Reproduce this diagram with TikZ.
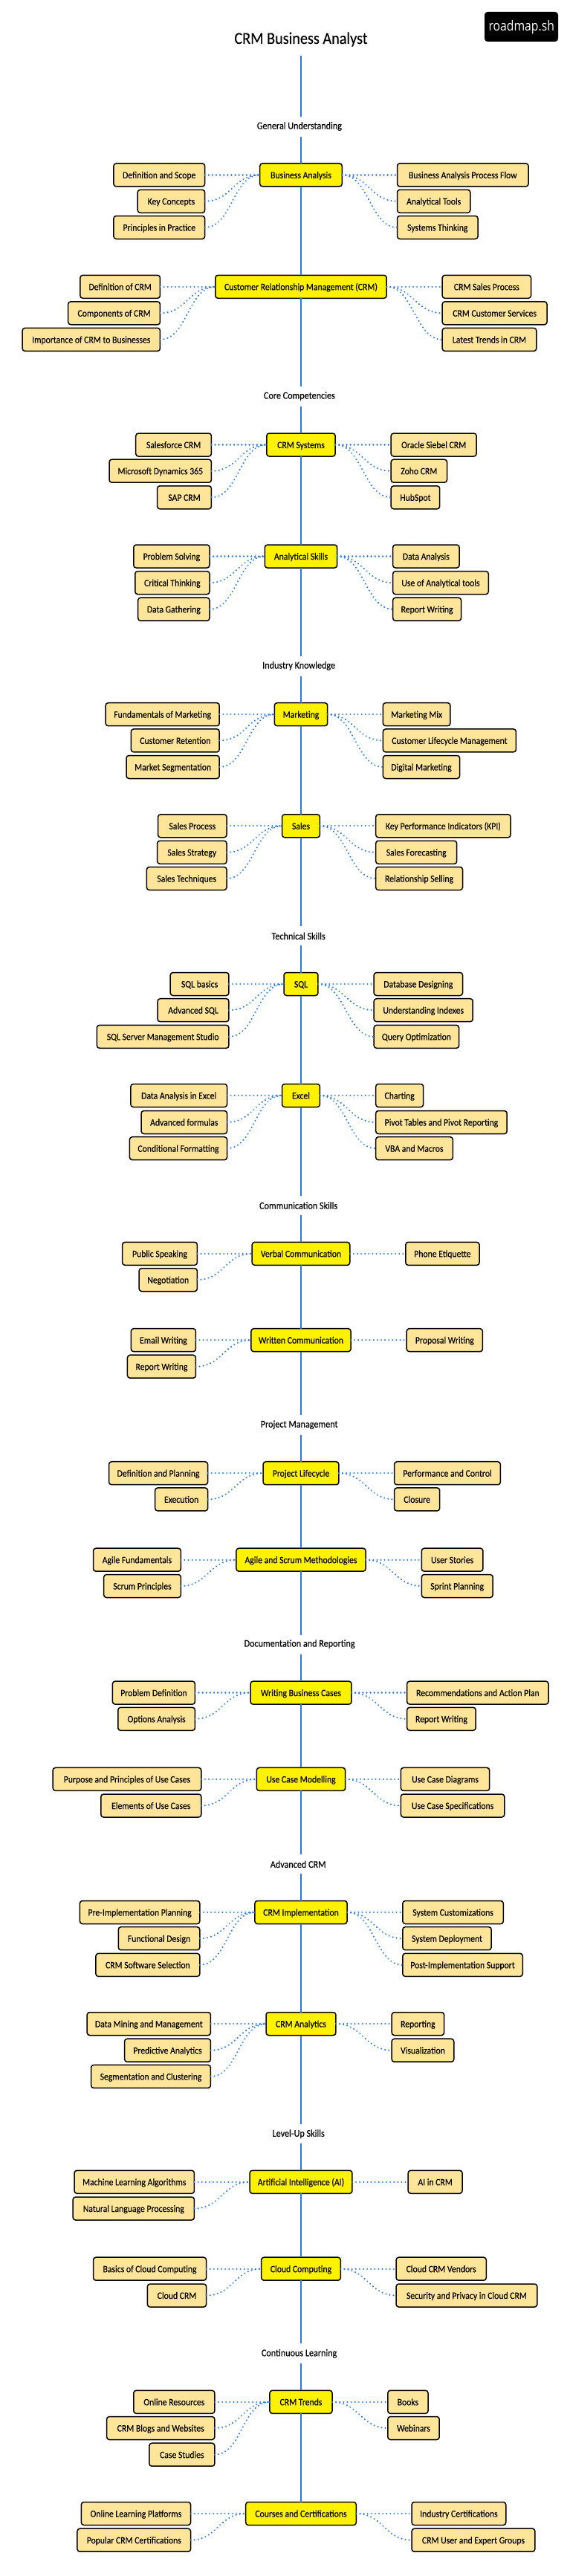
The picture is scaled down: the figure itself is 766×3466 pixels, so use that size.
\documentclass[tikz,border=0pt]{standalone}
\usepackage{fontspec}
\setmainfont[FakeStretch=0.9,FakeBold=0.25]{Carlito}
\newfontfamily\logofont[FakeStretch=0.85]{Open Sans}
\definecolor{linkblue}{HTML}{2B78E4}
\definecolor{subfill}{HTML}{FFE599}
\tikzset{
  basebox/.style={draw=black,line width=1.5,rounded corners=3.5,inner sep=0,outer sep=0,
    minimum height=31,text height=10,text depth=1,font=\fontsize{13}{15}\selectfont,text=black},
  mainbox/.style={basebox,fill=yellow},
  subbox/.style={basebox,fill=subfill},
  seclabel/.style={inner sep=0,font=\fontsize{13.5}{15}\selectfont,text=black},
  spineline/.style={draw=linkblue,line width=1.8},
  dotlink/.style={draw=linkblue,line width=2.3,line cap=round,dash pattern=on 0.01pt off 5.1pt},
}
\newcommand\mainn[5]{\node[mainbox,minimum width={(#3-#2)/2.044-1.5}] (#1) at (405,#4) {#5};}
\newcommand\lsub[6]{\node[subbox,minimum width={(#4-#3)/2.044-1.5}] (#2) at ({(#3+#4)/2/2.044},#5) {#6};
  \draw[dotlink] (#2.east) .. controls +(36.5,0) and +(-36.5,0) .. (#1.west);}
\newcommand\rsub[6]{\node[subbox,minimum width={(#4-#3)/2.044-1.5}] (#2) at ({(#3+#4)/2/2.044},#5) {#6};
  \draw[dotlink] (#1.east) .. controls +(36.5,0) and +(-36.5,0) .. (#2.west);}
\newcommand\secl[6]{\node[seclabel] (#1) at ({#2/2.044},#3) {#6};
  \coordinate (#1-up) at (405,#4); \coordinate (#1-down) at (405,#5);}
\newcommand\spine[2]{\draw[spineline] (#1) -- (#2);}
\begin{document}
\begin{tikzpicture}[x=1pt,y=-1pt]
\useasboundingbox (0,0) rectangle (766,3466);
\fill[white] (0,0) rectangle (766,3466);
\node[inner sep=0,font=\fontsize{22.5}{24}\selectfont] (title) at (405,53) {CRM Business Analyst};
\node[fill=black,rounded corners=4,inner sep=0,outer sep=0,minimum width=99,minimum height=40] (logo) at (701.5,36) {};
\node[inner sep=0,text=white,font=\logofont\fontsize{18.5}{20}\selectfont] (logotext) at (701.8,37) {roadmap.sh};
\coordinate (top) at (405,75);
% sections
\secl{s1}{823.5}{170}{157}{184}{General Understanding}
\secl{s2}{823.5}{533}{520.4}{546.8}{Core Competencies}
\secl{s3}{822}{896}{882.9}{909.6}{Industry Knowledge}
\secl{s4}{821}{1259.4}{1245.6}{1272.4}{Technical Skills}
\secl{s5}{821}{1622}{1608.7}{1635}{Communication Skills}
\secl{s6}{823}{1917.1}{1903.7}{1930.5}{Project Management}
\secl{s7}{824}{2212.1}{2199.5}{2225.9}{Documentation and Reporting}
\secl{s8}{820}{2508.3}{2494.6}{2521}{Advanced CRM}
\secl{s9}{821}{2871.2}{2857.5}{2884.4}{Level-Up Skills}
\secl{s10}{823}{3166.7}{3153}{3180.4}{Continuous Learning}
% Business Analysis
\mainn{ba}{714}{943}{235.4}{Business Analysis}
\lsub{ba}{ba-l1}{311}{565}{235.4}{Definition and Scope}
\lsub{ba}{ba-l2}{377}{565}{270.8}{Key Concepts}
\lsub{ba}{ba-l3}{311}{565}{306}{Principles in Practice}
\rsub{ba}{ba-r1}{1091}{1455}{235.4}{Business Analysis Process Flow}
\rsub{ba}{ba-r2}{1091}{1295}{270.8}{Analytical Tools}
\rsub{ba}{ba-r3}{1091}{1316}{306}{Systems Thinking}
% CRM
\mainn{crm}{591}{1065}{385.8}{Customer Relationship Management (CRM)}
\lsub{crm}{crm-l1}{219}{442}{385.8}{Definition of CRM}
\lsub{crm}{crm-l2}{186}{442}{421.3}{Components of CRM}
\lsub{crm}{crm-l3}{60}{442}{456.9}{Importance of CRM to Businesses}
\rsub{crm}{crm-r1}{1215}{1462}{385.8}{CRM Sales Process}
\rsub{crm}{crm-r2}{1215}{1506}{421.3}{CRM Customer Services}
\rsub{crm}{crm-r3}{1215}{1477}{456.9}{Latest Trends in CRM}
% CRM Systems
\mainn{sys}{732}{924}{598.5}{CRM Systems}
\lsub{sys}{sys-l1}{372}{583}{598.5}{Salesforce CRM}
\lsub{sys}{sys-l2}{299}{583}{633.7}{Microsoft Dynamics 365}
\lsub{sys}{sys-l3}{431}{583}{669.3}{SAP CRM}
\rsub{sys}{sys-r1}{1074}{1312}{598.5}{Oracle Siebel CRM}
\rsub{sys}{sys-r2}{1074}{1231}{633.7}{Zoho CRM}
\rsub{sys}{sys-r3}{1074}{1211}{669.3}{HubSpot}
% Analytical Skills
\mainn{ana}{727}{929}{748.5}{Analytical Skills}
\lsub{ana}{ana-l1}{366}{578}{748.5}{Problem Solving}
\lsub{ana}{ana-l2}{370}{578}{784.1}{Critical Thinking}
\lsub{ana}{ana-l3}{378}{578}{819.7}{Data Gathering}
\rsub{ana}{ana-r1}{1079}{1265}{748.5}{Data Analysis}
\rsub{ana}{ana-r2}{1079}{1345}{784.1}{Use of Analytical tools}
\rsub{ana}{ana-r3}{1079}{1270}{819.7}{Report Writing}
% Marketing
\mainn{mkt}{754}{903}{961.2}{Marketing}
\lsub{mkt}{mkt-l1}{289}{605}{961.2}{Fundamentals of Marketing}
\lsub{mkt}{mkt-l2}{359}{605}{996.4}{Customer Retention}
\lsub{mkt}{mkt-l3}{346}{605}{1032}{Market Segmentation}
\rsub{mkt}{mkt-r1}{1052}{1240}{961.2}{Marketing Mix}
\rsub{mkt}{mkt-r2}{1052}{1421}{996.4}{Customer Lifecycle Management}
\rsub{mkt}{mkt-r3}{1052}{1266}{1032}{Digital Marketing}
% Sales
\mainn{sal}{775}{882}{1111.3}{Sales}
\lsub{sal}{sal-l1}{433}{625}{1111.3}{Sales Process}
\lsub{sal}{sal-l2}{431}{625}{1146.8}{Sales Strategy}
\lsub{sal}{sal-l3}{402}{625}{1182}{Sales Techniques}
\rsub{sal}{sal-r1}{1032}{1406}{1111.3}{Key Performance Indicators (KPI)}
\rsub{sal}{sal-r2}{1032}{1258}{1146.8}{Sales Forecasting}
\rsub{sal}{sal-r3}{1032}{1274}{1182}{Relationship Selling}
% SQL
\mainn{sql}{780}{877}{1324}{SQL}
\lsub{sql}{sql-l1}{467}{631}{1324}{SQL basics}
\lsub{sql}{sql-l2}{432}{631}{1359.2}{Advanced SQL}
\lsub{sql}{sql-l3}{265}{631}{1394.8}{SQL Server Management Studio}
\rsub{sql}{sql-r1}{1027}{1274}{1324}{Database Designing}
\rsub{sql}{sql-r2}{1027}{1302}{1359.2}{Understanding Indexes}
\rsub{sql}{sql-r3}{1027}{1264}{1394.8}{Query Optimization}
% Excel
\mainn{xl}{775}{882}{1474}{Excel}
\lsub{xl}{xl-l1}{358}{626}{1474}{Data Analysis in Excel}
\lsub{xl}{xl-l2}{387}{626}{1510}{Advanced formulas}
\lsub{xl}{xl-l3}{355}{626}{1545.2}{Conditional Formatting}
\rsub{xl}{xl-r1}{1032}{1166}{1474}{Charting}
\rsub{xl}{xl-r2}{1032}{1396}{1510}{Pivot Tables and Pivot Reporting}
\rsub{xl}{xl-r3}{1032}{1247}{1545.2}{VBA and Macros}
% Verbal
\mainn{vrb}{692}{964}{1686.8}{Verbal Communication}
\lsub{vrb}{vrb-l1}{335}{544}{1686.8}{Public Speaking}
\lsub{vrb}{vrb-l2}{381}{544}{1722}{Negotiation}
\rsub{vrb}{vrb-r1}{1114}{1320}{1686.8}{Phone Etiquette}
% Written
\mainn{wrt}{690}{967}{1803.1}{Written Communication}
\lsub{wrt}{wrt-l1}{359}{540}{1803.1}{Email Writing}
\lsub{wrt}{wrt-l2}{349}{540}{1838.7}{Report Writing}
\rsub{wrt}{wrt-r1}{1117}{1329}{1803.1}{Proposal Writing}
% Project Lifecycle
\mainn{plc}{723}{934}{1982.2}{Project Lifecycle}
\lsub{plc}{plc-l1}{298}{573}{1982.2}{Definition and Planning}
\lsub{plc}{plc-l2}{425}{573}{2017.4}{Execution}
\rsub{plc}{plc-r1}{1083}{1378}{1982.2}{Performance and Control}
\rsub{plc}{plc-r2}{1083}{1211}{2017.4}{Closure}
% Agile
\mainn{agl}{649}{1008}{2098.7}{Agile and Scrum Methodologies}
\lsub{agl}{agl-l1}{255}{499}{2098.7}{Agile Fundamentals}
\lsub{agl}{agl-l2}{284}{499}{2134}{Scrum Principles}
\rsub{agl}{agl-r1}{1158}{1330}{2098.7}{User Stories}
\rsub{agl}{agl-r2}{1158}{1357}{2134}{Sprint Planning}
% Writing Business Cases
\mainn{wbc}{688}{969}{2277.6}{Writing Business Cases}
\lsub{wbc}{wbc-l1}{308}{538}{2277.6}{Problem Definition}
\lsub{wbc}{wbc-l2}{323}{538}{2312.8}{Options Analysis}
\rsub{wbc}{wbc-r1}{1118}{1510}{2277.6}{Recommendations and Action Plan}
\rsub{wbc}{wbc-r2}{1118}{1310}{2312.8}{Report Writing}
% Use Case Modelling
\mainn{ucm}{705}{952}{2393.9}{Use Case Modelling}
\lsub{ucm}{ucm-l1}{144}{555}{2393.9}{Purpose and Principles of Use Cases}
\lsub{ucm}{ucm-l2}{276}{555}{2429.5}{Elements of Use Cases}
\rsub{ucm}{ucm-r1}{1101}{1348}{2393.9}{Use Case Diagrams}
\rsub{ucm}{ucm-r2}{1101}{1389}{2429.5}{Use Case Specifications}
% CRM Implementation
\mainn{imp}{700}{957}{2573}{CRM Implementation}
\lsub{imp}{imp-l1}{218}{551}{2573}{Pre-Implementation Planning}
\lsub{imp}{imp-l2}{324}{551}{2608.2}{Functional Design}
\lsub{imp}{imp-l3}{262}{551}{2643.8}{CRM Software Selection}
\rsub{imp}{imp-r1}{1106}{1386}{2573}{System Customizations}
\rsub{imp}{imp-r2}{1106}{1353}{2608.2}{System Deployment}
\rsub{imp}{imp-r3}{1106}{1439}{2643.8}{Post-Implementation Support}
% CRM Analytics
\mainn{cra}{731}{926}{2723}{CRM Analytics}
\lsub{cra}{cra-l1}{238}{581}{2723}{Data Mining and Management}
\lsub{cra}{cra-l2}{341}{581}{2758.7}{Predictive Analytics}
\lsub{cra}{cra-l3}{249}{581}{2793.9}{Segmentation and Clustering}
\rsub{cra}{cra-r1}{1076}{1223}{2723}{Reporting}
\rsub{cra}{cra-r2}{1076}{1250}{2758.7}{Visualization}
% AI
\mainn{ai}{686}{971}{2935.8}{Artificial Intelligence (AI)}
\lsub{ai}{ai-l1}{203}{536}{2935.8}{Machine Learning Algorithms}
\lsub{ai}{ai-l2}{199}{536}{2971.5}{Natural Language Processing}
\rsub{ai}{ai-r1}{1121}{1273}{2935.8}{AI in CRM}
% Cloud
\mainn{cld}{718}{939}{3052.7}{Cloud Computing}
\lsub{cld}{cld-l1}{255}{569}{3052.7}{Basics of Cloud Computing}
\lsub{cld}{cld-l2}{404}{569}{3088.5}{Cloud CRM}
\rsub{cld}{cld-r1}{1088}{1339}{3052.7}{Cloud CRM Vendors}
\rsub{cld}{cld-r2}{1088}{1479}{3088.5}{Security and Privacy in Cloud CRM}
% Trends
\mainn{trd}{741}{916}{3231.8}{CRM Trends}
\lsub{trd}{trd-l1}{366}{592}{3231.8}{Online Resources}
\lsub{trd}{trd-l2}{292}{592}{3267}{CRM Blogs and Websites}
\lsub{trd}{trd-l3}{409}{592}{3302.7}{Case Studies}
\rsub{trd}{trd-r1}{1065}{1179}{3231.8}{Books}
\rsub{trd}{trd-r2}{1065}{1210}{3267}{Webinars}
% Courses
\mainn{crs}{675}{982}{3382}{Courses and Certifications}
\lsub{crs}{crs-l1}{222}{526}{3382}{Online Learning Platforms}
\lsub{crs}{crs-l2}{211}{526}{3417.7}{Popular CRM Certifications}
\rsub{crs}{crs-r1}{1131}{1393}{3382}{Industry Certifications}
\rsub{crs}{crs-r2}{1131}{1473}{3417.7}{CRM User and Expert Groups}
% spine
\spine{top}{s1-up}
\spine{s1-down}{ba.north}
\spine{ba.south}{crm.north}
\spine{crm.south}{s2-up}
\spine{s2-down}{sys.north}
\spine{sys.south}{ana.north}
\spine{ana.south}{s3-up}
\spine{s3-down}{mkt.north}
\spine{mkt.south}{sal.north}
\spine{sal.south}{s4-up}
\spine{s4-down}{sql.north}
\spine{sql.south}{xl.north}
\spine{xl.south}{s5-up}
\spine{s5-down}{vrb.north}
\spine{vrb.south}{wrt.north}
\spine{wrt.south}{s6-up}
\spine{s6-down}{plc.north}
\spine{plc.south}{agl.north}
\spine{agl.south}{s7-up}
\spine{s7-down}{wbc.north}
\spine{wbc.south}{ucm.north}
\spine{ucm.south}{s8-up}
\spine{s8-down}{imp.north}
\spine{imp.south}{cra.north}
\spine{cra.south}{s9-up}
\spine{s9-down}{ai.north}
\spine{ai.south}{cld.north}
\spine{cld.south}{s10-up}
\spine{s10-down}{trd.north}
\spine{trd.south}{crs.north}
\end{tikzpicture}
\end{document}
